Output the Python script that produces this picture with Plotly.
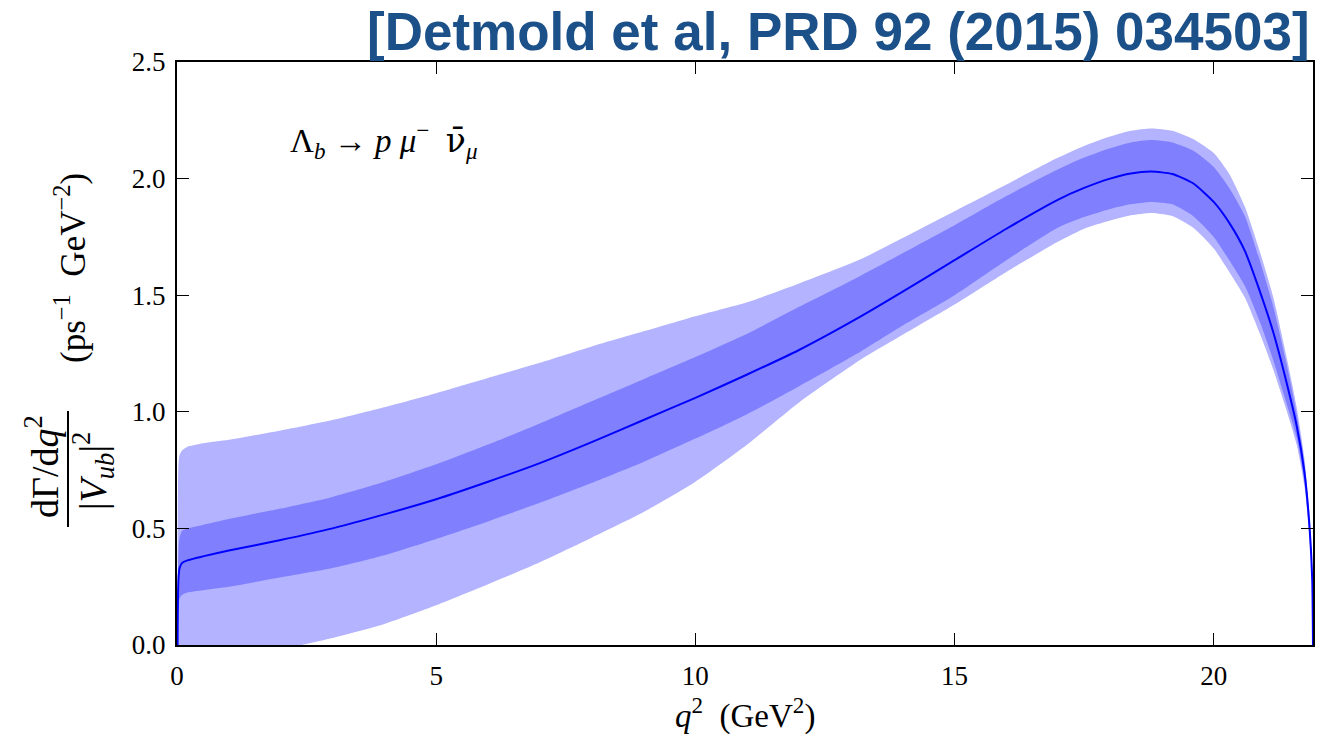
import plotly.graph_objects as go

# ---------------- data ----------------
q2 = [0.0112, 0.013, 0.015, 0.02, 0.03, 0.05, 0.1, 0.2, 0.5, 1.0, 2.0, 3.0, 4.0, 5.0, 6.0,
      7.0, 8.0, 9.0, 10.0, 11.0, 12.0, 13.2, 14.0, 15.0, 16.0, 17.0, 17.5, 18.0, 18.4,
      18.8, 19.2, 19.6, 20.0, 20.3, 20.6, 20.9, 21.15, 21.4, 21.6, 21.75, 21.85, 21.9,
      21.915]

central = [0.0, 0.07, 0.13, 0.22, 0.29, 0.33, 0.352, 0.363, 0.38, 0.405, 0.45, 0.50, 0.56,
           0.625, 0.70, 0.78, 0.87, 0.965, 1.06, 1.16, 1.265, 1.41, 1.515, 1.65, 1.785,
           1.91, 1.96, 2.00, 2.022, 2.03, 2.02, 1.98, 1.90, 1.81, 1.69, 1.51, 1.34, 1.13,
           0.94, 0.74, 0.50, 0.28, 0.0]

inner_hi = [0.0, 0.11, 0.20, 0.32, 0.41, 0.46, 0.49, 0.50, 0.515, 0.54, 0.585, 0.635, 0.70,
            0.775, 0.86, 0.95, 1.045, 1.14, 1.235, 1.335, 1.45, 1.585, 1.68, 1.80, 1.925,
            2.04, 2.09, 2.13, 2.155, 2.165, 2.155, 2.12, 2.05, 1.96, 1.84, 1.64, 1.45,
            1.21, 0.99, 0.78, 0.53, 0.30, 0.0]

inner_lo = [0.0, 0.04, 0.07, 0.13, 0.17, 0.20, 0.215, 0.225, 0.235, 0.25, 0.29, 0.33, 0.385,
            0.455, 0.53, 0.61, 0.695, 0.785, 0.885, 0.99, 1.11, 1.26, 1.37, 1.50, 1.65,
            1.79, 1.835, 1.87, 1.89, 1.90, 1.89, 1.84, 1.75, 1.65, 1.54, 1.38, 1.22, 1.04,
            0.89, 0.70, 0.47, 0.26, 0.0]

outer_hi = [0.0, 0.35, 0.55, 0.70, 0.78, 0.815, 0.835, 0.85, 0.865, 0.88, 0.92, 0.965, 1.02,
            1.08, 1.145, 1.21, 1.28, 1.345, 1.41, 1.47, 1.55, 1.655, 1.745, 1.86, 1.975,
            2.09, 2.14, 2.18, 2.205, 2.215, 2.205, 2.17, 2.11, 2.02, 1.88, 1.68, 1.49,
            1.24, 1.02, 0.80, 0.55, 0.31, 0.0]

outer_lo = [0.0, -0.05, -0.08, -0.10, -0.11, -0.12, -0.12, -0.12, -0.10, -0.07, -0.02, 0.03,
            0.09, 0.17, 0.26, 0.355, 0.46, 0.57, 0.70, 0.86, 1.04, 1.225, 1.33, 1.46, 1.60,
            1.73, 1.785, 1.82, 1.843, 1.853, 1.84, 1.79, 1.70, 1.60, 1.49, 1.33, 1.18,
            1.01, 0.86, 0.68, 0.45, 0.25, 0.0]

x_ticks = [0, 5, 10, 15, 20]
y_ticks = [0.0, 0.5, 1.0, 1.5, 2.0, 2.5]
y_tick_text = ["0.0", "0.5", "1.0", "1.5", "2.0", "2.5"]

# ---------------- figure ----------------
W, H = 1335, 738
ML, MR, MT, MB = 177, 22, 62, 93
PW, PH = W - ML - MR, H - MT - MB


def px(xp):
    return (xp - ML) / PW


def py(yp):
    return (H - MB - yp) / PH


SERIF = "Liberation Serif, DejaVu Serif, serif"
LIGHT = "#b3b3ff"
DARK = "#8080ff"
SPL = dict(shape="spline", smoothing=0.6)

fig = go.Figure()
fig.add_trace(go.Scatter(x=q2, y=outer_lo, mode="lines",
                         line=dict(width=0, color=LIGHT, **SPL),
                         hoverinfo="skip", showlegend=False))
fig.add_trace(go.Scatter(x=q2, y=outer_hi, mode="lines",
                         line=dict(width=0, color=LIGHT, **SPL),
                         fill="tonexty", fillcolor=LIGHT, showlegend=False))
fig.add_trace(go.Scatter(x=q2, y=inner_lo, mode="lines",
                         line=dict(width=0, color=DARK, **SPL),
                         hoverinfo="skip", showlegend=False))
fig.add_trace(go.Scatter(x=q2, y=inner_hi, mode="lines",
                         line=dict(width=0, color=DARK, **SPL),
                         fill="tonexty", fillcolor=DARK, showlegend=False))
fig.add_trace(go.Scatter(x=q2, y=central, mode="lines",
                         line=dict(width=2, color="#0000ff", **SPL),
                         showlegend=False))

axis_common = dict(showgrid=False, zeroline=False, showline=True, linecolor="black",
                   linewidth=2, mirror="allticks", ticks="inside", ticklen=12,
                   tickwidth=1, tickcolor="black",
                   tickfont=dict(family=SERIF, size=27, color="black"))

fig.update_xaxes(range=[0, 21.915], tickvals=x_ticks, ticktext=[str(v) for v in x_ticks],
                 ticklabelstandoff=6, **axis_common)
fig.update_yaxes(range=[0, 2.5], tickvals=y_ticks, ticktext=y_tick_text,
                 ticklabelstandoff=4, **axis_common)

annotations = [
    # title
    dict(text="<b>[Detmold et al, PRD 92 (2015) 034503]</b>", x=px(1312), y=py(32),
         xanchor="right", yanchor="middle",
         font=dict(family="Liberation Sans, Arial, sans-serif", size=53, color="#1b5089")),
    # process label
    dict(text="Λ<sub><i>b</i></sub> → <i>p</i> <i>μ</i><sup>−</sup>  "
              "<span style='font-family:DejaVu Serif'>ν̄</span><sub><i>μ</i></sub>",
         x=px(288), y=py(140), xanchor="left", yanchor="middle",
         font=dict(family=SERIF, size=33, color="black")),
    # x axis title
    dict(text="<i>q</i><sup>2</sup>  (GeV<sup>2</sup>)", x=px(745), y=py(713),
         xanchor="center", yanchor="middle",
         font=dict(family=SERIF, size=33, color="black")),
    # y axis title: units
    dict(text="(ps<sup>−1</sup>  GeV<sup>−2</sup>)", x=px(70), y=py(268), textangle=-90,
         xanchor="center", yanchor="middle",
         font=dict(family=SERIF, size=35, color="black")),
    # y axis title: numerator
    dict(text="dΓ/d<i>q</i><sup>2</sup>", x=px(42), y=py(467), textangle=-90,
         xanchor="center", yanchor="middle",
         font=dict(family=SERIF, size=38, color="black")),
    # y axis title: denominator
    dict(text="|<i>V</i><sub><i>ub</i></sub>|<sup>2</sup>", x=px(93), y=py(471), textangle=-90,
         xanchor="center", yanchor="middle",
         font=dict(family=SERIF, size=38, color="black")),
]
for a in annotations:
    a.update(xref="paper", yref="paper", showarrow=False)

fig.update_layout(
    width=W, height=H,
    margin=dict(l=ML, r=MR, t=MT, b=MB),
    paper_bgcolor="white", plot_bgcolor="white",
    annotations=annotations,
    shapes=[dict(type="line", xref="paper", yref="paper", x0=px(68), x1=px(68),
                 y0=py(411), y1=py(527), line=dict(color="black", width=2))],
)

fig.write_html("out.html")
